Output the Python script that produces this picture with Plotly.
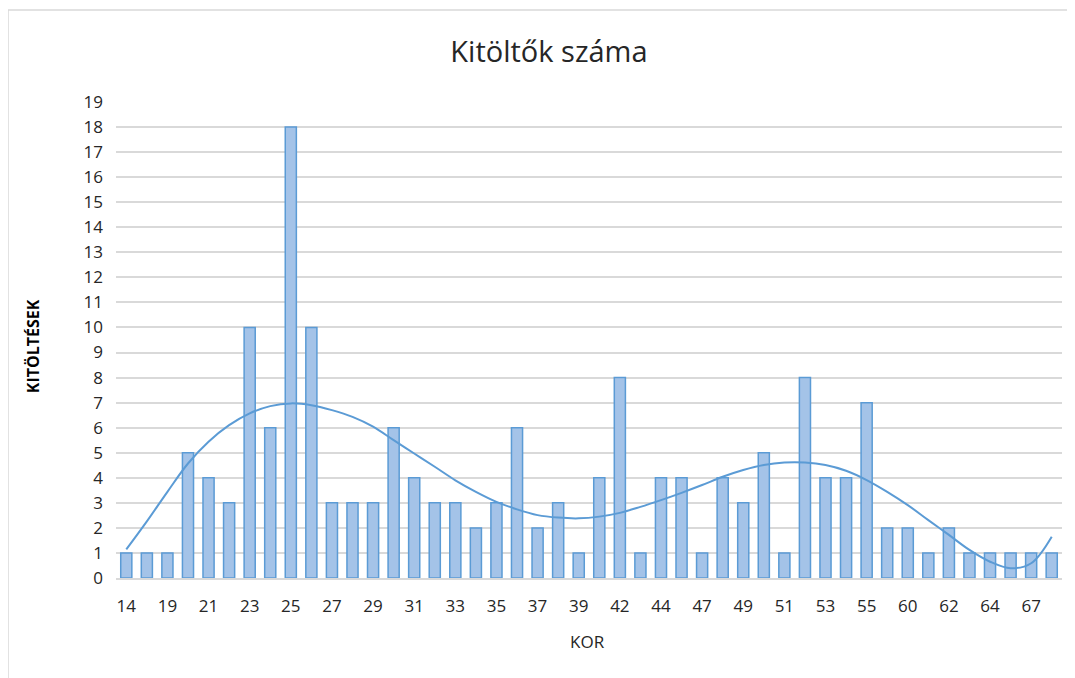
import plotly.graph_objects as go

# ages (every other one is labelled on the axis)
ages = ["14", "18", "19", "20", "21", "22", "23", "24", "25", "26",
        "27", "28", "29", "30", "31", "32", "33", "34", "35", "36",
        "37", "38", "39", "40", "42", "43", "44", "45", "47", "48",
        "49", "50", "51", "52", "53", "54", "55", "57", "60", "61",
        "62", "63", "64", "65", "67", "69"]
counts = [1, 1, 1, 5, 4, 3, 10, 6, 18, 10,
          3, 3, 3, 6, 4, 3, 3, 2, 3, 6,
          2, 3, 1, 4, 8, 1, 4, 4, 1, 4,
          3, 5, 1, 8, 4, 4, 7, 2, 2, 1,
          2, 1, 1, 1, 1, 1]
# polynomial trendline at each age
trend = [1.14, 2.26, 3.44, 4.57, 5.44, 6.1, 6.57, 6.86, 6.97, 6.9,
         6.7, 6.43, 6.04, 5.5, 4.97, 4.44, 3.9, 3.44, 3.04, 2.74,
         2.51, 2.41, 2.38, 2.45, 2.6, 2.84, 3.11, 3.4, 3.71, 4.04,
         4.31, 4.51, 4.61, 4.61, 4.51, 4.28, 3.91, 3.44, 2.91, 2.31,
         1.72, 1.12, 0.65, 0.39, 0.59, 1.65]

blue = "#5b9bd5"
font = "Open Sans"

fig = go.Figure()
fig.add_trace(go.Bar(x=ages, y=counts, marker=dict(color="#a4c3e8", line=dict(color=blue, width=1.5)),
                     showlegend=False))
fig.add_trace(go.Scatter(x=ages, y=trend, mode="lines", line=dict(color=blue, width=2, shape="spline"),
                         showlegend=False, hoverinfo="skip"))

# page body has an 8px margin, so the figure is drawn 8px smaller and shifted
fig.update_layout(
    width=1067, height=670,
    margin=dict(l=108, r=13, t=94, b=100, autoexpand=False),
    paper_bgcolor="white", plot_bgcolor="white",
    bargap=0.46,
    font=dict(family=font, color="#404040", size=17),
    title=dict(text="Kitöltők száma", x=0.507, xanchor="center", y=0.934, yanchor="middle",
               font=dict(family=font, size=29, color="#262626")),
    xaxis=dict(type="category", tickmode="array", tickvals=ages[::2], ticktext=ages[::2],
               showgrid=False, showline=True, linecolor="#d9d9d9", linewidth=1.5,
               ticks="", ticklabelstandoff=12, tickfont=dict(size=17, color="#262626")),
    yaxis=dict(range=[0, 19], dtick=1, showgrid=True, gridcolor="#d9d9d9", gridwidth=1.5,
               zeroline=False, ticks="", ticklabelstandoff=12, tickfont=dict(size=17, color="#262626")),
    annotations=[
        dict(text="KOR", xref="paper", yref="paper", x=0.498, y=-0.134, showarrow=False,
             xanchor="center", yanchor="middle", font=dict(size=17, color="#262626")),
        dict(text="<b>KITÖLTÉSEK</b>", xref="paper", yref="paper", x=-0.0877, y=0.487, textangle=-90,
             showarrow=False, xanchor="center", yanchor="middle", font=dict(size=16, color="#000000")),
    ],
)

# outer chart border (top and left edges are visible)
fig.add_shape(type="rect", xref="paper", yref="paper",
              x0=(0 - 108) / 946, x1=(1080 - 108) / 946, y0=(570 - 700) / 476, y1=(570 - 2) / 476,
              line=dict(color="#d9d9d9", width=1.5))

fig.write_html("out.html")
